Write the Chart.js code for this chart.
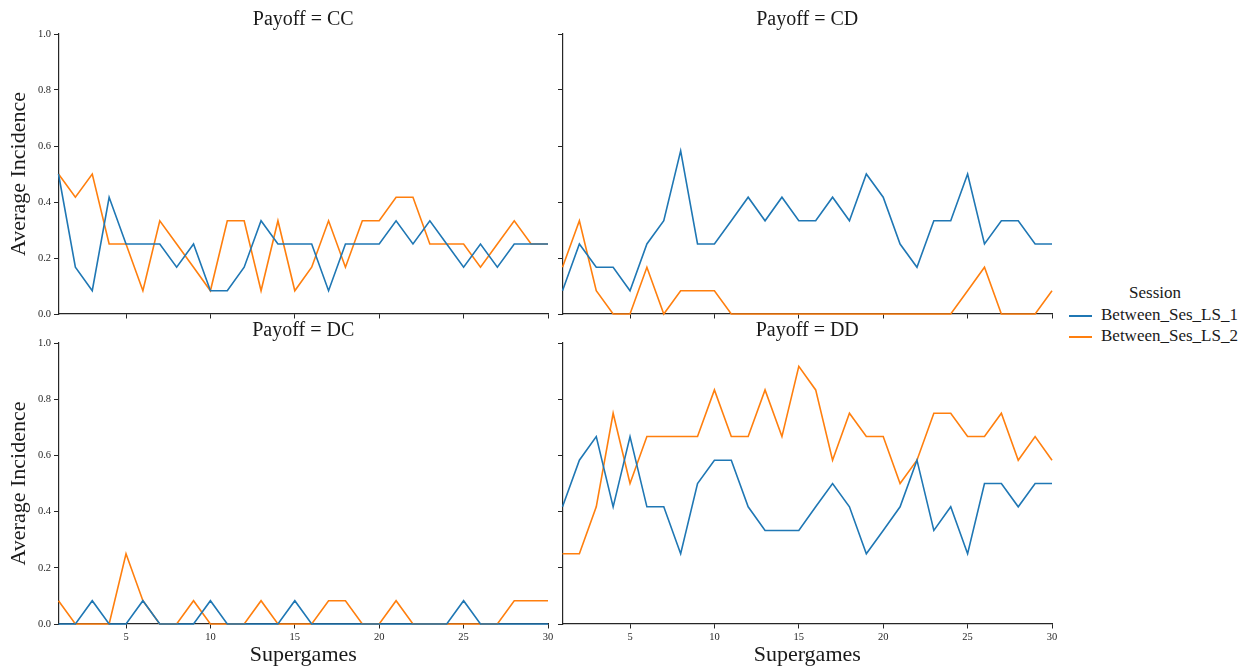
<!DOCTYPE html>
<html>
<head>
<meta charset="utf-8">
<script src="https://cdn.jsdelivr.net/npm/chart.js@4.4.0/dist/chart.umd.min.js"></script>
<style>
  body { margin: 0; background: #fff; width: 1250px; height: 670px; position: relative; overflow: hidden; }
  canvas { position: absolute; }
  #legend { position: absolute; left: 1062px; top: 282px; font-family: "Liberation Serif", "DejaVu Serif", serif; font-size: 17px; color: #1a1a1a; }
  #legend .ttl { width: 186px; text-align: center; height: 22px; line-height: 22px; }
  #legend .row { height: 21px; line-height: 21px; white-space: nowrap; }
  #legend .sw { display: inline-block; width: 23px; border-top: 2px solid; vertical-align: middle; margin: 0 9px 0 7px; }
</style>
</head>
<body>
<canvas id="cc" width="556" height="330" style="left:0;top:0"></canvas>
<canvas id="cd" width="508" height="330" style="left:552px;top:0"></canvas>
<canvas id="dc" width="556" height="355" style="left:0;top:315px"></canvas>
<canvas id="dd" width="508" height="355" style="left:552px;top:315px"></canvas>
<div id="legend"></div>
<script>
// ---- data ----
const supergames = [1, 2, 3, 4, 5, 6, 7, 8, 9, 10, 11, 12, 13, 14, 15, 16, 17, 18, 19, 20, 21, 22, 23, 24, 25, 26, 27, 28, 29, 30];
const xTicks = [5, 10, 15, 20, 25, 30];
const yTicks = [0, 0.2, 0.4, 0.6, 0.8, 1.0];
const sessions = ["Between_Ses_LS_1", "Between_Ses_LS_2"];
const colors = ["#1f77b4", "#ff7f0e"];

const ccLS1 = [0.5, 0.167, 0.083, 0.417, 0.25, 0.25, 0.25, 0.167, 0.25, 0.083, 0.083, 0.167, 0.333, 0.25, 0.25, 0.25, 0.083, 0.25, 0.25, 0.25, 0.333, 0.25, 0.333, 0.25, 0.167, 0.25, 0.167, 0.25, 0.25, 0.25];
const ccLS2 = [0.5, 0.417, 0.5, 0.25, 0.25, 0.083, 0.333, 0.25, 0.167, 0.083, 0.333, 0.333, 0.083, 0.333, 0.083, 0.167, 0.333, 0.167, 0.333, 0.333, 0.417, 0.417, 0.25, 0.25, 0.25, 0.167, 0.25, 0.333, 0.25, 0.25];
const cdLS1 = [0.083, 0.25, 0.167, 0.167, 0.083, 0.25, 0.333, 0.583, 0.25, 0.25, 0.333, 0.417, 0.333, 0.417, 0.333, 0.333, 0.417, 0.333, 0.5, 0.417, 0.25, 0.167, 0.333, 0.333, 0.5, 0.25, 0.333, 0.333, 0.25, 0.25];
const cdLS2 = [0.167, 0.333, 0.083, 0, 0, 0.167, 0, 0.083, 0.083, 0.083, 0, 0, 0, 0, 0, 0, 0, 0, 0, 0, 0, 0, 0, 0, 0.083, 0.167, 0, 0, 0, 0.083];
const dcLS1 = [0, 0, 0.083, 0, 0, 0.083, 0, 0, 0, 0.083, 0, 0, 0, 0, 0.083, 0, 0, 0, 0, 0, 0, 0, 0, 0, 0.083, 0, 0, 0, 0, 0];
const dcLS2 = [0.083, 0, 0, 0, 0.25, 0.083, 0, 0, 0.083, 0, 0, 0, 0.083, 0, 0, 0, 0.083, 0.083, 0, 0, 0.083, 0, 0, 0, 0, 0, 0, 0.083, 0.083, 0.083];
const ddLS1 = [0.417, 0.583, 0.667, 0.417, 0.667, 0.417, 0.417, 0.25, 0.5, 0.583, 0.583, 0.417, 0.333, 0.333, 0.333, 0.417, 0.5, 0.417, 0.25, 0.333, 0.417, 0.583, 0.333, 0.417, 0.25, 0.5, 0.5, 0.417, 0.5, 0.5];
const ddLS2 = [0.25, 0.25, 0.417, 0.75, 0.5, 0.667, 0.667, 0.667, 0.667, 0.833, 0.667, 0.667, 0.833, 0.667, 0.917, 0.833, 0.583, 0.75, 0.667, 0.667, 0.5, 0.583, 0.75, 0.75, 0.667, 0.667, 0.75, 0.583, 0.667, 0.583];

const serif = '"Liberation Serif", "DejaVu Serif", serif';
const ink = "#262626";

// one facet = one chart
function facet(id, title, s1, s2, isLeft, isBottom) {
  const ctx = document.getElementById(id).getContext("2d");
  return new Chart(ctx, {
    type: "line",
    data: {
      datasets: [s1, s2].map((vals, i) => ({
        label: sessions[i],
        data: vals.map((v, k) => ({ x: supergames[k], y: v })),
        borderColor: colors[i],
        borderWidth: 1.6,
        pointRadius: 0,
        tension: 0,
        fill: false,
        clip: false
      }))
    },
    options: {
      responsive: false,
      animation: false,
      devicePixelRatio: 1,
      layout: { padding: { right: 8 } },
      plugins: {
        legend: { display: false },
        tooltip: { enabled: false },
        title: {
          display: true,
          text: title,
          fullSize: false,
          color: "#1a1a1a",
          font: { family: serif, size: 20, weight: "normal" },
          padding: isBottom ? { top: 4, bottom: 0 } : { top: 8, bottom: 2 }
        }
      },
      scales: {
        x: {
          type: "linear",
          min: 1,
          max: 30,
          afterBuildTicks: s => { s.ticks = xTicks.map(v => ({ value: v })); },
          afterFit: s => { s.height = isBottom ? 46 : 16; },
          grid: { display: true, drawOnChartArea: false, drawTicks: true, tickLength: 4.5, color: ink, lineWidth: 1 },
          border: { display: true, color: ink, width: 1.2 },
          ticks: {
            color: ink,
            padding: 2,
            maxRotation: 0,
            autoSkip: false,
            font: { family: serif, size: 10.5 },
            callback: v => (isBottom ? String(v) : "")
          },
          title: {
            display: isBottom,
            text: "Supergames",
            color: "#1a1a1a",
            font: { family: serif, size: 22 },
            padding: { top: 0, bottom: 2 }
          }
        },
        y: {
          min: 0,
          max: 1,
          afterBuildTicks: s => { s.ticks = yTicks.map(v => ({ value: v })); },
          afterFit: s => { s.width = isLeft ? 58.5 : 10.5; },
          grid: { display: true, drawOnChartArea: false, drawTicks: true, tickLength: 4.5, color: ink, lineWidth: 1 },
          border: { display: true, color: ink, width: 1.2 },
          ticks: {
            color: ink,
            padding: 3,
            font: { family: serif, size: 10.5 },
            callback: v => (isLeft ? Number(v).toFixed(1) : "")
          },
          title: {
            display: isLeft,
            text: "Average Incidence",
            color: "#1a1a1a",
            font: { family: serif, size: 22 },
            padding: { top: 6, bottom: 0 }
          }
        }
      }
    }
  });
}

facet("cc", "Payoff = CC", ccLS1, ccLS2, true, false);
facet("cd", "Payoff = CD", cdLS1, cdLS2, false, false);
facet("dc", "Payoff = DC", dcLS1, dcLS2, true, true);
facet("dd", "Payoff = DD", ddLS1, ddLS2, false, true);

// shared legend on the right
const legend = document.getElementById("legend");
legend.innerHTML = '<div class="ttl">Session</div>' + sessions.map((s, i) =>
  '<div class="row"><span class="sw" style="border-color:' + colors[i] + '"></span>' + s + '</div>').join("");
</script>
</body>
</html>
